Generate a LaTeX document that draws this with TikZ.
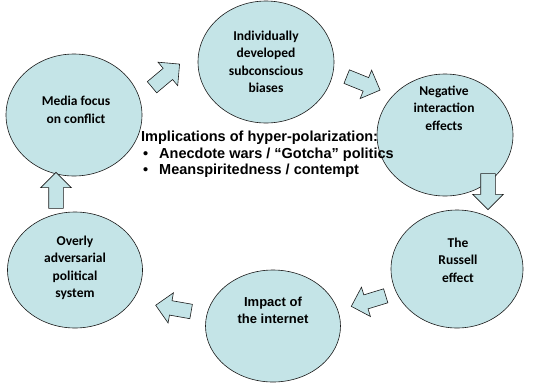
\documentclass[tikz,border=0pt]{standalone}
\usepackage{fontspec}
\setmainfont{Liberation Sans}
\newfontfamily\calfont{Carlito}
\usetikzlibrary{positioning,shapes.geometric,shapes.arrows}
\definecolor{cFill}{HTML}{C4E4E7}
\definecolor{cLine}{HTML}{1A1A1A}

\begin{document}
\begin{tikzpicture}[
  x=1pt, y=-1pt,
  bub/.style={draw=cLine, fill=cFill, ellipse, line width=0.6pt, inner sep=0pt},
  lbl/.style={font=\calfont\bfseries\fontsize{13.5}{17.5}\selectfont, align=center, text=black},
  big/.style={font=\bfseries\fontsize{13}{17}\selectfont, align=center, text=black},
  blk/.style={draw=cLine, fill=cFill, single arrow, line width=0.6pt,
              inner xsep=0pt, inner ysep=7pt, text height=0pt, text depth=0pt,
              minimum height=36pt, single arrow head extend=8pt,
              single arrow head indent=0pt},
]
\useasboundingbox (0,0) rectangle (540,383);

\node[bub, minimum width=136pt, minimum height=122pt] (media) at (74,115) {};
\node[bub, minimum width=136pt, minimum height=122pt] (indiv) at (266,62) {};
\node[bub, minimum width=136pt, minimum height=122pt] (neg) at (445,135) {};
\node[bub, minimum width=132pt, minimum height=118pt] (russ) at (457,269) {};
\node[bub, minimum width=135pt, minimum height=112pt] (inet) at (273,326) {};
\node[bub, minimum width=135pt, minimum height=116pt] (adv) at (75,270) {};

\node[lbl] (mediaT) at (76,110) {Media focus\\on conflict};
\node[lbl] (indivT) at (266,62) {Individually\\developed\\subconscious\\biases};
\node[lbl] (negT) at (444,108) {Negative\\interaction\\effects};
\node[lbl] (russT) at (458,260) {The\\Russell\\effect};
\node[big] (inetT) at (273,310) {Impact of\\the internet};
\node[lbl] (advT) at (75,268) {Overly\\adversarial\\political\\system};

\node[blk, rotate=40] (a1) at (163,78) {};
\node[blk, rotate=-22] (a2) at (360,82) {};
\node[blk, rotate=-90] (a3) at (488,188) {};
\node[blk, rotate=197] (a4) at (372,300) {};
\node[blk, rotate=170] (a5) at (177,309) {};
\node[blk, rotate=90] (a6) at (56,194) {};

\node[anchor=north west, align=left, inner sep=0pt,
      font=\bfseries\fontsize{14.5}{16.5}\selectfont] (impl) at (141,131)
  {Implications of hyper-polarization:\\
   \hspace*{2pt}\makebox[16pt][l]{\textbullet}Anecdote wars / “Gotcha” politics\\
   \hspace*{2pt}\makebox[16pt][l]{\textbullet}Meanspiritedness / contempt};
\end{tikzpicture}
\end{document}
